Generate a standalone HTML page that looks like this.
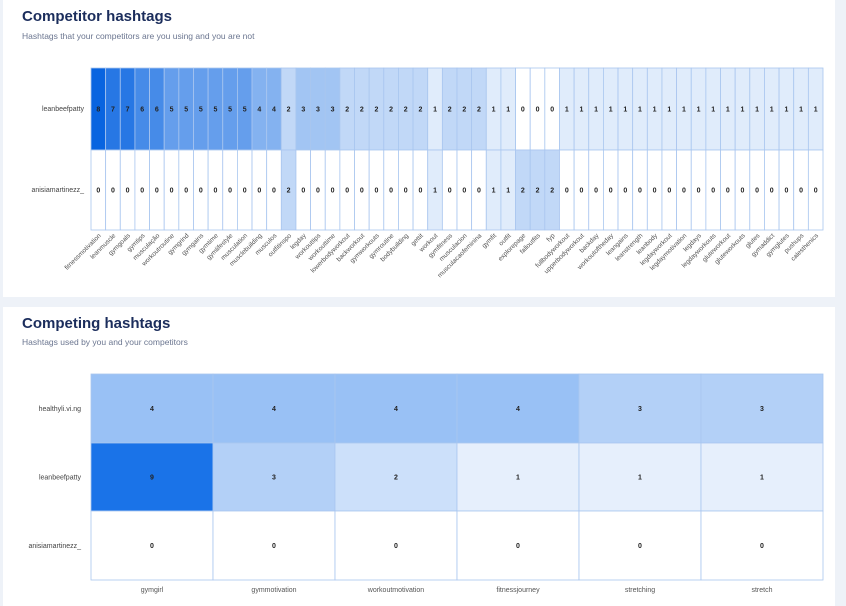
<!DOCTYPE html>
<html><head><meta charset="utf-8"><style>
body{margin:0;background:#eef2f8;}
svg{display:block;font-family:"Liberation Sans",sans-serif;}
</style></head><body>
<svg width="846" height="606" viewBox="0 0 846 606" xmlns="http://www.w3.org/2000/svg">
<rect x="0" y="0" width="846" height="606" fill="#eef2f8"/>
<rect x="3" y="0" width="832" height="297" fill="#fff"/>
<rect x="3" y="307" width="832" height="299" fill="#fff"/>
<text x="22" y="21" font-size="15" font-weight="bold" fill="#1b2d5c">Competitor hashtags</text>
<text x="22" y="39" font-size="8.5" fill="#6b7690">Hashtags that your competitors are you using and you are not</text>
<text x="22" y="328" font-size="15" font-weight="bold" fill="#1b2d5c">Competing hashtags</text>
<text x="22" y="345" font-size="8.5" fill="#6b7690">Hashtags used by you and your competitors</text>
<g id="top"></g>
<g id="bot"></g>
</svg>
<script>
const NS="http://www.w3.org/2000/svg";
function el(p,t,a,txt){const e=document.createElementNS(NS,t);for(const k in a)e.setAttribute(k,a[k]);if(txt!==undefined)e.textContent=txt;p.appendChild(e);return e;}
function col(v,m,c){const t=v/m;const r=Math.round(255+(c[0]-255)*t),g=Math.round(255+(c[1]-255)*t),b=Math.round(255+(c[2]-255)*t);return `rgb(${r},${g},${b})`;}
const labs="fitnessmotivation leanmuscle gymgoals gymtips musculação workoutroutine gymgrind gymgains gymtime gymlifestyle musculation musclebuilding musculos outfitinspo legday workouttips workouttime lowerbodyworkout backworkout gymworkouts gymroutine bodybuilding gettit workout gymfitness musculacion musculacaofeminina gymfit outfit explorepage falloutfits fyp fullbodyworkout upperbodyworkout backday workoutoftheday leangains leanstrength leanbody legdayworkout legdaymotivation legdays legdayworkouts gluteworkout gluteworkouts glutes gymaddict gymglutes pushups calesthenics".split(" ");
const r1=[8,7,7,6,6,5,5,5,5,5,5,4,4,2,3,3,3,2,2,2,2,2,2,1,2,2,2,1,1,0,0,0].concat(Array(18).fill(1));
const r2=Array(13).fill(0).concat([2],Array(9).fill(0),[1,0,0,0,1,1,2,2,2],Array(18).fill(0));
const T=document.getElementById("top");
const x0=91,w=732/50,ys=[68,150,230];
[r1,r2].forEach((row,ri)=>{row.forEach((v,i)=>{
 el(T,"rect",{x:x0+i*w,y:ys[ri],width:w,height:ys[ri+1]-ys[ri],fill:col(v,8,[8,100,224]),stroke:"#a9c6ef","stroke-width":0.8});
 el(T,"text",{x:x0+i*w+w/2,y:(ys[ri]+ys[ri+1])/2+2.5,"font-size":7,"font-weight":"bold","text-anchor":"middle",fill:"#222"},v);
});});
el(T,"text",{x:84,y:111,"font-size":7,"text-anchor":"end",fill:"#444"},"leanbeefpatty");
el(T,"text",{x:84,y:192,"font-size":7,"text-anchor":"end",fill:"#444"},"anisiamartinezz_");
labs.forEach((l,i)=>{const cx=x0+i*w+w/2+3,cy=236;
 el(T,"text",{x:cx,y:cy,"font-size":6.5,"text-anchor":"end",fill:"#555",transform:`rotate(-45 ${cx} ${cy})`},l);});
const B=document.getElementById("bot");
const bl=["gymgirl","gymmotivation","workoutmotivation","fitnessjourney","stretching","stretch"];
const bd=[[4,4,4,4,3,3],[9,3,2,1,1,1],[0,0,0,0,0,0]];
const bx=91,bw=732/6,by=[374,443,511,580],names=["healthyli.vi.ng","leanbeefpatty","anisiamartinezz_"];
bd.forEach((row,ri)=>{row.forEach((v,i)=>{
 el(B,"rect",{x:bx+i*bw,y:by[ri],width:bw,height:by[ri+1]-by[ri],fill:col(v,9,[26,115,232]),stroke:"#a9c6ef","stroke-width":0.8});
 el(B,"text",{x:bx+i*bw+bw/2,y:(by[ri]+by[ri+1])/2+2.5,"font-size":7,"font-weight":"bold","text-anchor":"middle",fill:"#222"},v);
});
 el(B,"text",{x:81,y:(by[ri]+by[ri+1])/2+2.5,"font-size":7,"text-anchor":"end",fill:"#444"},names[ri]);});
bl.forEach((l,i)=>el(B,"text",{x:bx+i*bw+bw/2,y:592,"font-size":7,"text-anchor":"middle",fill:"#555"},l));
</script>
</body></html>
